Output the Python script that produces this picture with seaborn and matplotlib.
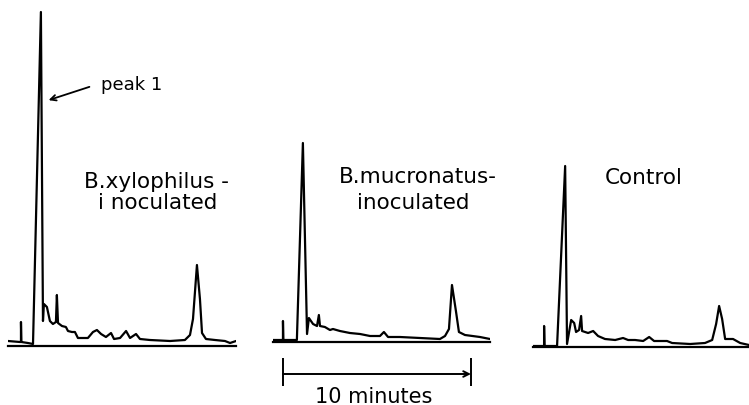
import matplotlib
matplotlib.use("Agg")
import matplotlib.pyplot as plt
import seaborn as sns
import pandas as pd

# retention time (min after injection) and detector response (arbitrary units)
xylo_time = [-0.69, -0.05, 0.0, 0.0, 0.02, 0.37, 0.64, 1.06, 1.17, 1.22, 1.38, 1.54, 1.70,
             1.86, 1.91, 1.97, 2.18, 2.39, 2.50, 2.71, 2.87, 3.03, 3.56, 3.83, 4.04, 4.26,
             4.52, 4.79, 4.95, 5.27, 5.59, 5.80, 6.12, 6.33, 6.86, 7.93, 8.72, 8.99, 9.15,
             9.36, 9.52, 9.63, 9.84, 10.32, 10.85, 11.12, 11.44]
xylo_resp = [5, 4, 4, 24, 4, 3, 2, 334, 25, 42, 39, 25, 22,
             24, 51, 23, 20, 19, 15, 14, 14, 8, 8, 14, 16, 12,
             9, 13, 7, 8, 15, 8, 12, 7, 6, 5, 6, 11, 27,
             81, 47, 13, 7, 6, 5, 3, 5]

mucro_time = [-0.53, -0.05, 0.0, 0.0, 0.02, 0.37, 0.74, 1.06, 1.28, 1.38, 1.60, 1.81, 1.91,
              1.97, 2.23, 2.50, 2.66, 3.03, 3.56, 4.10, 4.63, 4.89, 5.16, 5.37, 5.59, 6.22,
              7.29, 8.35, 8.62, 8.83, 8.99, 9.20, 9.36, 9.68, 10.48, 11.01]
mucro_resp = [2, 2, 2, 21, 2, 2, 2, 199, 8, 24, 18, 16, 27,
              16, 15, 12, 13, 11, 9, 8, 6, 6, 6, 10, 5, 5,
              4, 3, 6, 13, 57, 31, 10, 7, 5, 3]

ctrl_time = [-0.59, -0.05, 0.0, 0.0, 0.02, 0.32, 0.69, 1.12, 1.22, 1.44, 1.60, 1.70, 1.86,
             1.97, 2.02, 2.34, 2.61, 2.87, 3.24, 3.78, 4.20, 4.47, 4.84, 5.27, 5.59, 5.85,
             6.54, 6.81, 7.77, 8.56, 8.94, 9.15, 9.31, 9.47, 9.63, 10.05, 10.43, 10.90]
ctrl_resp = [1, 1, 1, 21, 1, 1, 1, 181, 3, 27, 24, 15, 17,
             31, 16, 14, 16, 11, 8, 7, 9, 7, 7, 6, 10, 6,
             6, 4, 3, 4, 7, 23, 41, 28, 8, 8, 4, 2]

W, H = 749, 406
PX_PER_MIN = 18.8

sns.set_style("white")
plt.rcParams['font.family'] = ['DejaVu Sans']
plt.rcParams['text.color'] = 'black'

fig = plt.figure(figsize=(W / 100, H / 100), dpi=100)


def panel(time, resp, left_px, base_px):
    t0, t1 = time[0], time[-1]
    width_px = (t1 - t0) * PX_PER_MIN
    top = base_px - 4
    ax = fig.add_axes([left_px / W, (H - base_px) / H, width_px / W, top / H])
    df = pd.DataFrame({'t': time, 'r': resp})
    sns.lineplot(data=df, x='t', y='r', sort=False, estimator=None,
                 color='black', linewidth=1.6, ax=ax)
    ax.set_xlim(t0, t1)
    ax.set_ylim(0, top)
    for s in ['top', 'left', 'right']:
        ax.spines[s].set_visible(False)
    ax.spines['bottom'].set_linewidth(1.6)
    ax.spines['bottom'].set_color('black')
    ax.set_xticks([])
    ax.set_yticks([])
    ax.set_xlabel('')
    ax.set_ylabel('')
    ax.patch.set_alpha(0)
    return ax


ax1 = panel(xylo_time, xylo_resp, 8, 347)
ax2 = panel(mucro_time, mucro_resp, 273, 343)
ax3 = panel(ctrl_time, ctrl_resp, 533, 348)

fs = 15.5
ax1.text(7.18, 165, 'B.xylophilus -', ha='center', va='center', fontsize=fs, color='black')
ax1.text(7.29, 144, 'i noculated', ha='center', va='center', fontsize=fs, color='black')
ax1.text(5.9, 262, 'peak 1', ha='center', va='center', fontsize=13, color='black')
ax1.annotate('', xy=(1.33, 245), xytext=(3.78, 260),
             arrowprops=dict(arrowstyle='->', color='black', lw=1.3))

ax2.text(7.18, 166, 'B.mucronatus-', ha='center', va='center', fontsize=fs, color='black')
ax2.text(6.91, 140, 'inoculated', ha='center', va='center', fontsize=fs, color='black')

ax3.text(5.32, 170, 'Control', ha='center', va='center', fontsize=fs, color='black')

# 10 minute scale bar under the middle trace
ax2.vlines([0, 10], -44, -16, color='black', lw=1.4, clip_on=False)
ax2.annotate('', xy=(10, -32), xytext=(0, -32), annotation_clip=False,
             arrowprops=dict(arrowstyle='->', color='black', lw=1.4,
                             shrinkA=0, shrinkB=0))
ax2.text(4.84, -54, '10 minutes', ha='center', va='center', fontsize=15,
         color='black', clip_on=False)

fig.savefig('out.png', dpi=100)
plt.close(fig)
